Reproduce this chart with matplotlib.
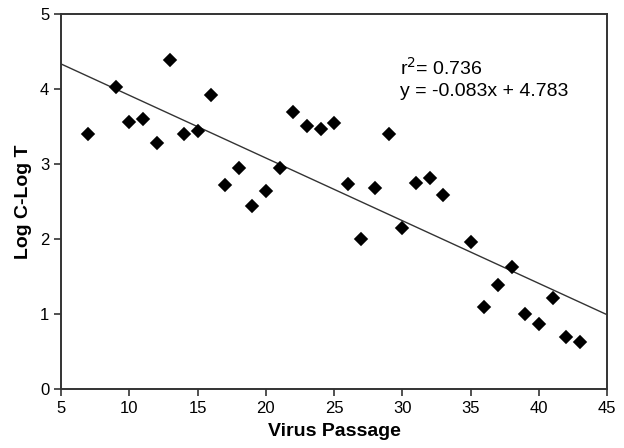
import matplotlib.pyplot as plt
import numpy as np

plt.rcParams['font.family'] = ['Liberation Sans', 'DejaVu Sans']

# virus passage vs log C - log T
passage = [7, 9, 10, 11, 12, 13, 14, 15, 16, 17, 18, 19, 20, 21, 22, 23, 24, 25,
           26, 27, 28, 29, 30, 31, 32, 33, 35, 36, 37, 38, 39, 40, 41, 42, 43]
log_ct = [3.40, 4.02, 3.56, 3.60, 3.28, 4.38, 3.40, 3.44, 3.92, 2.72, 2.94, 2.44,
          2.64, 2.94, 3.69, 3.50, 3.46, 3.55, 2.73, 2.00, 2.68, 3.40, 2.14, 2.75,
          2.81, 2.58, 1.96, 1.09, 1.39, 1.62, 1.00, 0.87, 1.21, 0.69, 0.63]

fit_label = "r$^2$= 0.736\ny = -0.083x + 4.783"

fig = plt.figure(figsize=(6.24, 4.48), dpi=100)
ax = fig.add_axes([0.098, 0.132, 0.875, 0.837])

ax.plot(passage, log_ct, 'D', color='black', markersize=6.2,
        markeredgewidth=1.2, markeredgecolor='black', zorder=3)

# regression line across the whole axis
slope, intercept = np.polyfit(passage, log_ct, 1)
xs = np.array([5, 45])
ax.plot(xs, slope * xs + intercept, color='#333333', linewidth=1.0)

ax.text(0.62, 0.885, fit_label, transform=ax.transAxes, fontsize=14,
        va='top', ha='left', linespacing=1.3)

ax.set_xlim(5, 45)
ax.set_ylim(0, 5)
ax.set_xticks(range(5, 46, 5))
ax.set_yticks(range(0, 6))
ax.tick_params(direction='out', length=5, width=1.2, labelsize=12, colors='#333333',
               labelcolor='black')
for s in ax.spines.values():
    s.set_color('#333333')
    s.set_linewidth(1.4)

ax.set_xlabel('Virus Passage', fontsize=14, fontweight='bold', labelpad=5)
ax.set_ylabel('Log C-Log T', fontsize=14, fontweight='bold', labelpad=6)

fig.savefig('out.png', dpi=100)
